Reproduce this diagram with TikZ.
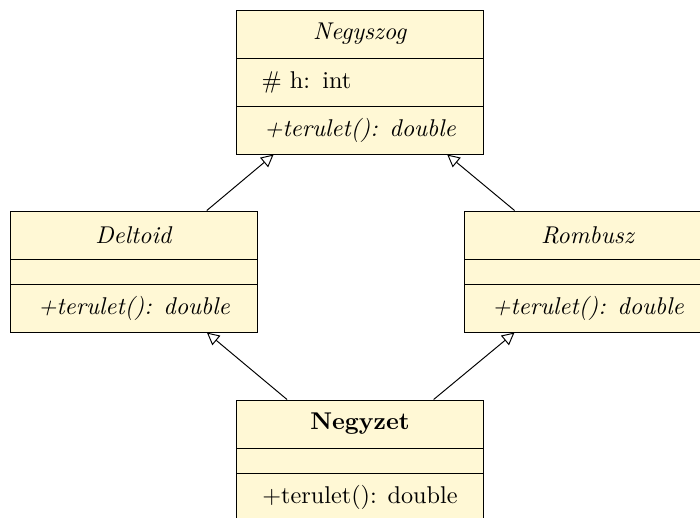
\documentclass[tikz,border=0pt]{standalone}
\usepackage{amsmath}
\usepackage{xcolor}
\usepackage{tikz}
\usetikzlibrary{positioning, arrows.meta, fit}

\definecolor{umlfill}{HTML}{FFF8D5}

\begin{document}
\begin{tikzpicture}[x=0.0145cm, y=-0.0145cm,
  classpart/.style={draw, fill=umlfill, minimum width=3.57cm, minimum height=0.696cm, inner sep=0pt, outer sep=0pt},
  emptypart/.style={classpart, minimum height=0.3625cm},
  attrpart/.style={classpart, inner xsep=0.36cm, text width=2.85cm, align=left},
  inherit/.style={-{Triangle[open, length=1.8mm, width=1.8mm]}}]
\clip (0,0) rectangle (700,517);

% Negyszog
\node[classpart, anchor=north] (neg) at (360,10) {\textit{Negyszog}};
\node[attrpart, below=0pt of neg] (neg-attr) {\# h: int};
\node[classpart, below=0pt of neg-attr] (neg-op) {\textit{+terulet(): double}};
\node[fit=(neg)(neg-op), inner sep=0pt] (Negyszog) {};

% Deltoid
\node[classpart, anchor=north] (del) at (134,211) {\textit{Deltoid}};
\node[emptypart, below=0pt of del] (del-attr) {};
\node[classpart, below=0pt of del-attr] (del-op) {\textit{+terulet(): double}};
\node[fit=(del)(del-op), inner sep=0pt] (Deltoid) {};

% Rombusz
\node[classpart, anchor=north] (rom) at (588,211) {\textit{Rombusz}};
\node[emptypart, below=0pt of rom] (rom-attr) {};
\node[classpart, below=0pt of rom-attr] (rom-op) {\textit{+terulet(): double}};
\node[fit=(rom)(rom-op), inner sep=0pt] (Rombusz) {};

% Negyzet
\node[classpart, anchor=north] (nz) at (360,400) {\textbf{Negyzet}};
\node[emptypart, below=0pt of nz] (nz-attr) {};
\node[classpart, below=0pt of nz-attr] (nz-op) {+terulet(): double};
\node[fit=(nz)(nz-op), inner sep=0pt] (Negyzet) {};

\draw[inherit] (Deltoid) -- (Negyszog);
\draw[inherit] (Rombusz) -- (Negyszog);
\draw[inherit] (Negyzet) -- (Deltoid);
\draw[inherit] (Negyzet) -- (Rombusz);
\end{tikzpicture}
\end{document}
